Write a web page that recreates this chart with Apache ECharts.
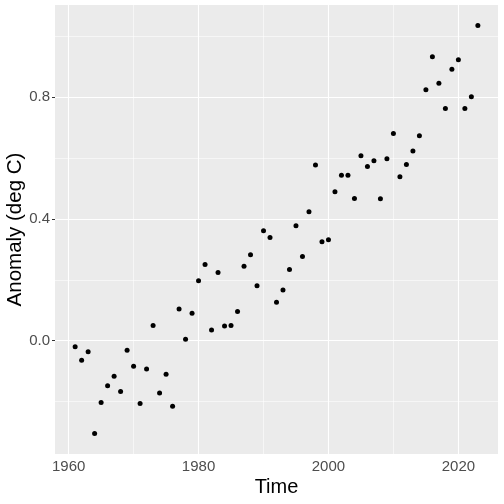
<!DOCTYPE html>
<html>
<head>
<meta charset="utf-8">
<script src="https://cdn.jsdelivr.net/npm/echarts@6/dist/echarts.min.js"></script>
<style>html,body{margin:0;padding:0;background:#fff}#c{width:504px;height:504px}</style>
</head>
<body>
<div id="c"></div>
<script>
const years = [1961,1962,1963,1964,1965,1966,1967,1968,1969,1970,1971,1972,1973,1974,1975,1976,1977,1978,1979,1980,1981,1982,1983,1984,1985,1986,1987,1988,1989,1990,1991,1992,1993,1994,1995,1996,1997,1998,1999,2000,2001,2002,2003,2004,2005,2006,2007,2008,2009,2010,2011,2012,2013,2014,2015,2016,2017,2018,2019,2020,2021,2022,2023];
const anomaly = [-0.020,-0.064,-0.036,-0.305,-0.203,-0.148,-0.117,-0.167,-0.031,-0.084,-0.206,-0.093,0.050,-0.172,-0.110,-0.215,0.104,0.005,0.090,0.197,0.250,0.035,0.224,0.048,0.050,0.096,0.244,0.282,0.180,0.361,0.339,0.126,0.166,0.234,0.377,0.276,0.423,0.577,0.325,0.331,0.489,0.543,0.543,0.467,0.607,0.572,0.591,0.466,0.597,0.680,0.538,0.578,0.623,0.673,0.824,0.932,0.845,0.762,0.891,0.922,0.762,0.801,1.035];
const xTicks = [1960,1980,2000,2020];
const xMinor = [1970,1990,2010];
const yTicks = [0.0,0.4,0.8];
const yMinor = [-0.2,0.2,0.6,1.0];

const majorStyle = {color:'#FFFFFF', width:1.1, type:'solid'};
const minorStyle = {color:'#FFFFFF', width:0.55, type:'solid'};
const gridLines = []
  .concat(xMinor.map(v => ({xAxis:v, lineStyle:minorStyle})))
  .concat(yMinor.map(v => ({yAxis:v, lineStyle:minorStyle})))
  .concat(xTicks.map(v => ({xAxis:v, lineStyle:majorStyle})))
  .concat(yTicks.map(v => ({yAxis:v, lineStyle:majorStyle})));

const chart = echarts.init(document.getElementById('c'), null, {renderer:'canvas'});
chart.setOption({
  animation:false,
  backgroundColor:'#FFFFFF',
  grid:{left:55,right:6,top:5,bottom:50,show:true,backgroundColor:'#EBEBEB',borderWidth:0,containLabel:false,outerBoundsMode:'none'},
  xAxis:{
    type:'value', min:1957.9, max:2026.1,
    name:'Time', nameLocation:'middle', nameGap:23, nameMoveOverlap:false,
    nameTextStyle:{color:'#000000',fontSize:20,fontFamily:'Liberation Sans'},
    axisLine:{show:false},
    splitLine:{show:false},
    axisTick:{show:true,customValues:xTicks,length:3,lineStyle:{color:'#333333',width:1}},
    axisLabel:{customValues:xTicks,color:'#4D4D4D',fontSize:15,fontFamily:'Liberation Sans',margin:5,formatter:v=>String(v)}
  },
  yAxis:{
    type:'value', min:-0.372, max:1.102,
    name:'Anomaly (deg C)', nameLocation:'middle', nameGap:29, nameRotate:90, nameMoveOverlap:false,
    nameTextStyle:{color:'#000000',fontSize:20.5,fontFamily:'Liberation Sans'},
    axisLine:{show:false},
    splitLine:{show:false},
    axisTick:{show:true,customValues:yTicks,length:3,lineStyle:{color:'#333333',width:1}},
    axisLabel:{customValues:yTicks,color:'#4D4D4D',fontSize:15,fontFamily:'Liberation Sans',margin:5,formatter:v=>v.toFixed(1)}
  },
  series:[
    {type:'scatter',data:[],silent:true,z:1,
     markLine:{silent:true,symbol:'none',label:{show:false},animation:false,data:gridLines}},
    {type:'scatter',z:5,symbol:'circle',symbolSize:5,itemStyle:{color:'#000000',opacity:1},
     data:years.map((y,i)=>[y,anomaly[i]])}
  ]
});
</script>
</body>
</html>
